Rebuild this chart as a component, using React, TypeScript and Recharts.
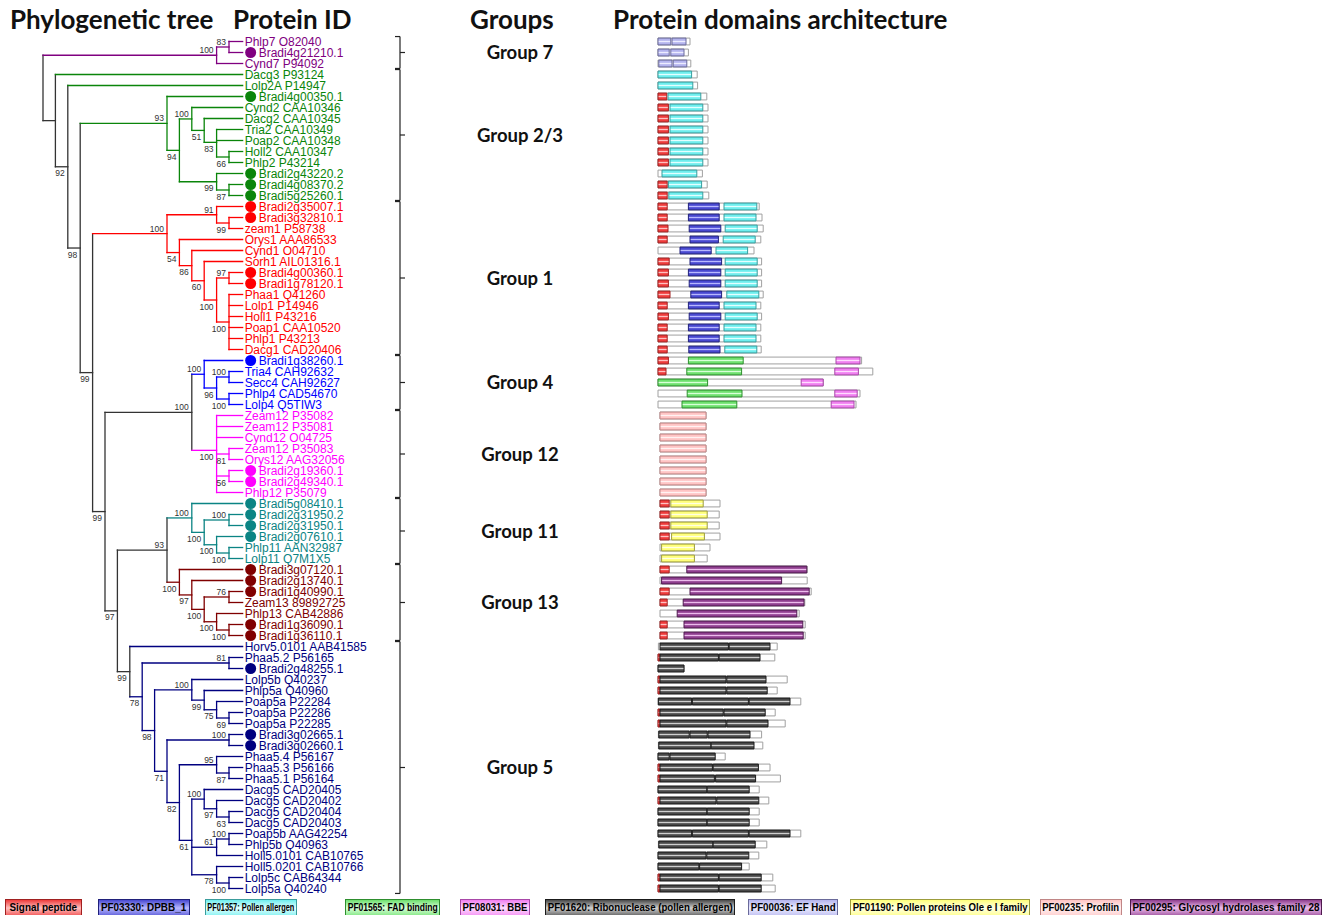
import React from "react";
import {
  ComposedChart,
  XAxis,
  YAxis,
  Scatter,
  ReferenceLine,
  ReferenceArea,
} from "recharts";

const W = 1332;
const H = 915;

// protein IDs top to bottom, row = index + 1
const proteins = [
  "Phlp7 O82040", "Bradi4g21210.1", "Cynd7 P94092",
  "Dacg3 P93124", "Lolp2A P14947", "Bradi4g00350.1", "Cynd2 CAA10346", "Dacg2 CAA10345",
  "Tria2 CAA10349", "Poap2 CAA10348", "Holl2 CAA10347", "Phlp2 P43214", "Bradi2g43220.2",
  "Bradi4g08370.2", "Bradi5g25260.1",
  "Bradi2g35007.1", "Bradi3g32810.1", "zeam1 P58738", "Orys1 AAA86533", "Cynd1 O04710",
  "Sorh1 AIL01316.1", "Bradi4g00360.1", "Bradi1g78120.1", "Phaa1 Q41260", "Lolp1 P14946",
  "Holl1 P43216", "Poap1 CAA10520", "Phlp1 P43213", "Dacg1 CAD20406",
  "Bradi1g38260.1", "Tria4 CAH92632", "Secc4 CAH92627", "Phlp4 CAD54670", "Lolp4 Q5TIW3",
  "Zeam12 P35082", "Zeam12 P35081", "Cynd12 O04725", "Zeam12 P35083", "Orys12 AAG32056",
  "Bradi2g19360.1", "Bradi2g49340.1", "Phlp12 P35079",
  "Bradi5g08410.1", "Bradi2g31950.2", "Bradi2g31950.1", "Bradi2g07610.1", "Phlp11 AAN32987",
  "Lolp11 Q7M1X5",
  "Bradi3g07120.1", "Bradi2g13740.1", "Bradi1g40990.1", "Zeam13 89892725", "Phlp13 CAB42886",
  "Bradi1g36090.1", "Bradi1g36110.1",
  "Horv5.0101 AAB41585", "Phaa5.2 P56165", "Bradi2g48255.1", "Lolp5b Q40237", "Phlp5a Q40960",
  "Poap5a P22284", "Poap5a P22286", "Poap5a P22285", "Bradi3g02665.1", "Bradi3g02660.1",
  "Phaa5.4 P56167", "Phaa5.3 P56166", "Phaa5.1 P56164", "Dacg5 CAD20405", "Dacg5 CAD20402",
  "Dacg5 CAD20404", "Dacg5 CAD20403", "Poap5b AAG42254", "Phlp5b Q40963",
  "Holl5.0101 CAB10765", "Holl5.0201 CAB10766", "Lolp5c CAB64344", "Lolp5a Q40240",
];

const groups = [
  { key: "g7", label: "Group 7", first: 1, last: 3 },
  { key: "g23", label: "Group 2/3", first: 4, last: 15 },
  { key: "g1", label: "Group 1", first: 16, last: 29 },
  { key: "g4", label: "Group 4", first: 30, last: 34 },
  { key: "g12", label: "Group 12", first: 35, last: 42 },
  { key: "g11", label: "Group 11", first: 43, last: 48 },
  { key: "g13", label: "Group 13", first: 49, last: 55 },
  { key: "g5", label: "Group 5", first: 56, last: 78 },
];

// cladogram: lv = node depth level, kids = leaf rows or node ids, bs = bootstrap
const tree: any[] = [
  { id: "root", lv: 0, kids: ["g7", "s1"] },
  { id: "s1", lv: 1, kids: [4, "s2"] },
  { id: "s2", lv: 2, kids: [5, "s3"], bs: 92 },
  { id: "s3", lv: 3, kids: ["g23", "s4"], bs: 98 },
  { id: "s4", lv: 4, kids: ["g1", "s5"], bs: 99 },
  { id: "s5", lv: 5, kids: ["g412", "s6"], bs: 99 },
  { id: "s6", lv: 6, kids: ["g1113", "g5r"], bs: 97 },

  { id: "g7", lv: 14, kids: ["g7a", 3], bs: 100 },
  { id: "g7a", lv: 15, kids: [1, 2], bs: 83 },

  { id: "g23", lv: 10, kids: [6, "g23b"], bs: 93 },
  { id: "g23b", lv: 11, kids: ["g23c", "g23g"], bs: 94 },
  { id: "g23c", lv: 12, kids: [7, "g23d"], bs: 100 },
  { id: "g23d", lv: 13, kids: [8, "g23e"], bs: 51 },
  { id: "g23e", lv: 14, kids: [9, 10, "g23f"], bs: 83 },
  { id: "g23f", lv: 15, kids: [11, 12], bs: 66 },
  { id: "g23g", lv: 14, kids: [13, "g23h"], bs: 99 },
  { id: "g23h", lv: 15, kids: [14, 15], bs: 87 },

  { id: "g1", lv: 10, kids: ["g1a", "g1b"], bs: 100 },
  { id: "g1a", lv: 14, kids: [16, "g1a2"], bs: 91 },
  { id: "g1a2", lv: 15, kids: [17, 18], bs: 99 },
  { id: "g1b", lv: 11, kids: [19, "g1c"], bs: 54 },
  { id: "g1c", lv: 12, kids: [20, "g1d"], bs: 86 },
  { id: "g1d", lv: 13, kids: [21, "g1e"], bs: 60 },
  { id: "g1e", lv: 14, kids: ["g1f", "g1g"], bs: 100 },
  { id: "g1f", lv: 15, kids: [22, 23], bs: 97 },
  { id: "g1g", lv: 15, kids: [24, 25, 26, 27, 28, 29], bs: 100 },

  { id: "g412", lv: 12, kids: ["g4", "g12"], bs: 100 },
  { id: "g4", lv: 13, kids: [30, "g4b"], bs: 100 },
  { id: "g4b", lv: 14, kids: ["g4c", "g4d"], bs: 96 },
  { id: "g4c", lv: 15, kids: [31, 32], bs: 100 },
  { id: "g4d", lv: 15, kids: [33, 34], bs: 100 },
  { id: "g12", lv: 14, kids: [35, 36, 37, "g12a", "g12b", 42], bs: 100 },
  { id: "g12a", lv: 15, kids: [38, 39], bs: 81 },
  { id: "g12b", lv: 15, kids: [40, 41], bs: 56 },

  { id: "g1113", lv: 10, kids: ["g11", "g13"], bs: 93 },
  { id: "g11", lv: 12, kids: [43, "g11b"], bs: 100 },
  { id: "g11b", lv: 13, kids: ["g11c", "g11d"], bs: 100 },
  { id: "g11c", lv: 15, kids: [44, 45], bs: 100 },
  { id: "g11d", lv: 14, kids: [46, "g11e"], bs: 100 },
  { id: "g11e", lv: 15, kids: [47, 48], bs: 100 },
  { id: "g13", lv: 11, kids: [49, "g13b"], bs: 100 },
  { id: "g13b", lv: 12, kids: [50, "g13c"], bs: 97 },
  { id: "g13c", lv: 13, kids: ["g13d", "g13e"], bs: 100 },
  { id: "g13d", lv: 15, kids: [51, 52], bs: 76 },
  { id: "g13e", lv: 14, kids: [53, "g13f"], bs: 100 },
  { id: "g13f", lv: 15, kids: [54, 55], bs: 100 },

  { id: "g5r", lv: 7, kids: [56, "g5a"], bs: 99, spine: true },
  { id: "g5a", lv: 8, kids: ["g5b", "g5c"], bs: 78 },
  { id: "g5b", lv: 15, kids: [57, 58], bs: 81 },
  { id: "g5c", lv: 9, kids: ["g5d", "g5e"], bs: 98 },
  { id: "g5d", lv: 12, kids: [59, "g5d2"], bs: 100 },
  { id: "g5d2", lv: 13, kids: [60, "g5d3"], bs: 99 },
  { id: "g5d3", lv: 14, kids: [61, "g5d4"], bs: 75 },
  { id: "g5d4", lv: 15, kids: [62, 63], bs: 69 },
  { id: "g5e", lv: 10, kids: ["g5f", "g5g"], bs: 71 },
  { id: "g5f", lv: 15, kids: [64, 65], bs: 100 },
  { id: "g5g", lv: 11, kids: ["g5h", "g5i"], bs: 82 },
  { id: "g5h", lv: 14, kids: [66, "g5h2"], bs: 95 },
  { id: "g5h2", lv: 15, kids: [67, 68], bs: 87 },
  { id: "g5i", lv: 12, kids: ["g5j", "g5k", "g5l"], bs: 61 },
  { id: "g5j", lv: 13, kids: [69, "g5j2"], bs: 100 },
  { id: "g5j2", lv: 14, kids: [70, "g5j3"], bs: 97 },
  { id: "g5j3", lv: 15, kids: [71, 72], bs: 63 },
  { id: "g5k", lv: 14, kids: ["g5k2", 75], bs: 61, up: true },
  { id: "g5k2", lv: 15, kids: [73, 74], bs: 100 },
  { id: "g5l", lv: 14, kids: [76, "g5l2"], bs: 78 },
  { id: "g5l2", lv: 15, kids: [77, 78], bs: 100 },
];

// protein length box per row: [start, end] (aa)
const backbone = [
  [0, 80], [0, 76], [0, 82],
  [0, 98], [0, 99], [0, 122], [0, 125], [0, 125], [0, 125], [0, 125], [0, 125], [0, 125],
  [0, 111], [0, 123], [0, 127],
  [0, 253], [0, 260], [0, 263], [0, 257], [0, 240], [0, 259], [0, 259], [0, 259], [0, 263],
  [0, 257], [0, 259], [0, 257], [0, 257], [0, 258],
  [0, 509], [0, 537], [0, 413], [0, 505], [0, 495],
  [5, 120], [5, 120], [5, 120], [5, 120], [5, 120], [5, 120], [5, 120], [5, 120],
  [5, 155], [5, 153], [5, 153], [5, 155], [5, 130], [5, 123],
  [5, 373], [5, 373], [5, 383], [5, 367], [5, 353], [5, 368], [5, 368],
  [1, 298], [0, 292], [0, 65], [0, 323], [0, 298], [0, 357], [0, 293], [0, 318], [1, 259],
  [1, 262], [0, 168], [0, 280], [0, 306], [0, 253], [0, 277], [0, 253], [0, 253], [0, 357],
  [1, 272], [0, 252], [0, 228], [0, 287], [0, 293],
];

// domains: [row, start, end]
const signalPeptide = [
  [6, 0, 22], [7, 0, 26], [8, 0, 26], [9, 0, 26], [10, 0, 26], [11, 0, 26], [12, 0, 26],
  [14, 0, 23], [15, 0, 23],
  [16, 0, 23], [17, 0, 23], [18, 0, 25], [19, 0, 23], [21, 0, 28], [22, 0, 26], [23, 0, 26],
  [24, 0, 30], [25, 0, 23], [26, 0, 26], [27, 0, 23], [28, 0, 23], [29, 0, 23],
  [30, 0, 26], [31, 0, 20],
  [43, 5, 28], [44, 5, 28], [45, 5, 28], [46, 5, 28],
  [49, 5, 28], [51, 5, 28], [52, 5, 23], [54, 5, 23], [55, 5, 23],
  [57, 0, 5], [59, 0, 5], [60, 0, 5], [62, 0, 5], [63, 0, 5], [67, 0, 5], [68, 0, 5],
  [70, 0, 5], [77, 0, 5], [78, 0, 5],
];
const dpbb1 = [
  [16, 76, 153], [17, 76, 153], [18, 78, 157], [19, 80, 151], [20, 55, 133], [21, 80, 159],
  [22, 76, 157], [23, 78, 157], [24, 82, 159], [25, 76, 153], [26, 78, 157], [27, 76, 153],
  [28, 76, 153], [29, 77, 155],
];
const pollenAllergen = [
  [4, 0, 84], [5, 0, 87], [6, 25, 107], [7, 30, 112], [8, 30, 112], [9, 30, 112],
  [10, 30, 112], [11, 30, 112], [12, 30, 112], [13, 10, 97], [14, 26, 109], [15, 27, 112],
  [16, 165, 247], [17, 165, 245], [18, 168, 248], [19, 163, 243], [20, 145, 224],
  [21, 168, 248], [22, 168, 248], [23, 168, 248], [24, 172, 252], [25, 165, 245],
  [26, 168, 248], [27, 165, 245], [28, 165, 245], [29, 167, 247],
];
const fadBinding = [[30, 76, 213], [31, 72, 209], [32, 0, 124], [33, 73, 210], [34, 60, 197]];
const bbe = [[30, 445, 505], [31, 442, 501], [32, 358, 413], [33, 442, 498], [34, 433, 490]];
const ribonuclease = [
  [56, 5, 176], [56, 178, 280], [57, 5, 151], [57, 153, 255], [58, 0, 65],
  [59, 5, 170], [59, 172, 270], [60, 5, 170], [60, 172, 273],
  [61, 1, 84], [61, 86, 226], [61, 228, 330], [62, 5, 163], [62, 165, 268],
  [63, 5, 170], [63, 172, 275], [64, 2, 78], [64, 80, 123], [64, 125, 230],
  [65, 2, 132], [65, 133, 240], [66, 0, 28], [66, 30, 143], [67, 5, 136], [67, 138, 251],
  [68, 5, 141], [68, 144, 244], [69, 0, 122], [69, 123, 228], [70, 5, 145], [70, 147, 252],
  [71, 0, 122], [71, 123, 228], [72, 0, 122], [72, 123, 228],
  [73, 0, 84], [73, 86, 226], [73, 228, 330], [74, 2, 137], [74, 138, 243],
  [75, 0, 120], [75, 122, 227], [76, 0, 102], [76, 104, 209],
  [77, 5, 151], [77, 153, 258], [78, 5, 151], [78, 153, 258],
];
const efHand = [[1, 0, 32], [1, 35, 70], [2, 0, 28], [2, 32, 65], [3, 2, 35], [3, 38, 72]];
const oleE1 = [[43, 32, 113], [44, 32, 123], [45, 32, 123], [46, 34, 116], [47, 9, 91], [48, 9, 91]];
const profilin = [
  [35, 5, 120], [36, 5, 120], [37, 5, 120], [38, 5, 120],
  [39, 5, 120], [40, 5, 120], [41, 5, 120], [42, 5, 120],
];
const gh28 = [
  [49, 72, 372], [50, 9, 309], [51, 80, 378], [52, 63, 365], [53, 48, 347], [54, 65, 362],
  [55, 65, 363],
];

const domainData: Record<string, number[][]> = {
  sig: signalPeptide, dpbb: dpbb1, pa: pollenAllergen, fad: fadBinding, bbe,
  rnase: ribonuclease, ef: efHand, ole: oleE1, prof: profilin, gh28,
};

// styles
const GROUP_COLOR: Record<string, string> = {
  g7: "#800080", g23: "#0a850a", g1: "#ff0000", g4: "#0000ff",
  g12: "#ff00ff", g11: "#0b8484", g13: "#800000", g5: "#000080",
};
const SPINE = "#333";

const DOMAIN_STYLE = [
  { key: "sig", label: "Signal peptide", base: "#ee3b3b", light: "#ffc0c0", stroke: "#a02020", lx: 5, lw: 77 },
  { key: "dpbb", label: "PF03330: DPBB_1", base: "#4848d0", light: "#b8b8ff", stroke: "#20207a", lx: 98, lw: 92 },
  { key: "pa", label: "PF01357: Pollen allergen", base: "#6eeeee", light: "#e4ffff", stroke: "#3a9c9c", lx: 205, lw: 92 },
  { key: "fad", label: "PF01565: FAD binding", base: "#6ee06e", light: "#d8ffd8", stroke: "#2e8e2e", lx: 345, lw: 95 },
  { key: "bbe", label: "PF08031: BBE", base: "#f07ef0", light: "#ffdcff", stroke: "#a848a8", lx: 460, lw: 70 },
  { key: "rnase", label: "PF01620: Ribonuclease (pollen allergen)", base: "#484848", light: "#cfcfcf", stroke: "#1a1a1a", lx: 545, lw: 190 },
  { key: "ef", label: "PF00036: EF Hand", base: "#b4b4ee", light: "#ececff", stroke: "#6a6a9a", lx: 748, lw: 90 },
  { key: "ole", label: "PF01190: Pollen proteins Ole e I family", base: "#ffff7a", light: "#ffffe4", stroke: "#9c9c3c", lx: 850, lw: 180 },
  { key: "prof", label: "PF00235: Profilin", base: "#ffc4c4", light: "#fff2f2", stroke: "#c08686", lx: 1040, lw: 82 },
  { key: "gh28", label: "PF00295: Glycosyl hydrolases family 28", base: "#8e3e8e", light: "#ecbcec", stroke: "#4e1a4e", lx: 1130, lw: 192 },
];

// axis mapping
const TREE_X0 = 43;
const TREE_STEP = 12.4;
const LEAF_LV = 16.1;
const AA_X0 = 658;
const AA_PER_PX = 2.5;
const ROW_Y0 = 41.5;
const ROW_STEP = 11;
const BOX = 0.31;
const treeDomain = [-TREE_X0 / TREE_STEP, (W - TREE_X0) / TREE_STEP];
const aaDomain = [-AA_X0 * AA_PER_PX, (W - AA_X0) * AA_PER_PX];
const rowDomain = [1 - ROW_Y0 / ROW_STEP, 1 + (H - ROW_Y0) / ROW_STEP];
const BR_X = 400;
const GROUP_X = 520;

// tree layout
const byId = new Map(tree.map((n) => [n.id, n]));
const parentOf = new Map<string, any>();
tree.forEach((n) => n.kids.forEach((k: any) => typeof k === "string" && parentOf.set(k, n)));
const groupOfRow = (r: number) => groups.find((g) => r >= g.first && r <= g.last)!.key;
const leavesUnder = (k: any): number[] =>
  typeof k === "number" ? [k] : byId.get(k).kids.flatMap(leavesUnder);
const yOf = (k: any): number => {
  if (typeof k === "number") return k;
  const ys = byId.get(k).kids.map(yOf);
  return ys.reduce((a: number, b: number) => a + b, 0) / ys.length;
};
const lvOf = (k: any) => (typeof k === "number" ? LEAF_LV : byId.get(k).lv);
const colorOf = (k: any) => {
  if (typeof k === "number") return GROUP_COLOR[groupOfRow(k)];
  if (byId.get(k).spine) return SPINE;
  const gs = Array.from(new Set(leavesUnder(k).map(groupOfRow)));
  return gs.length === 1 ? GROUP_COLOR[gs[0]] : SPINE;
};

const branchSegs = tree.flatMap((n) => {
  const ys = n.kids.map(yOf);
  const segs = [
    { x1: n.lv, y1: Math.min(...ys), x2: n.lv, y2: Math.max(...ys), c: colorOf(n.id) },
  ];
  n.kids.forEach((k: any, i: number) =>
    segs.push({ x1: n.lv, y1: ys[i], x2: lvOf(k), y2: ys[i], c: colorOf(k) })
  );
  return segs;
});

const leafPts = proteins.map((name, i) => ({
  x: LEAF_LV, y: i + 1, name, color: GROUP_COLOR[groupOfRow(i + 1)],
}));

const bsPts = tree
  .filter((n) => n.bs)
  .map((n) => ({
    x: n.lv,
    y: yOf(n.id),
    bs: n.bs,
    up: n.up ?? (parentOf.get(n.id)?.kids[0] === n.id),
  }));

const groupPts = groups.map((g) => ({ x: GROUP_X, y: (g.first + g.last) / 2, label: g.label }));

const bracketSegs = groups.flatMap((g) => {
  const top = g.first - 0.45;
  const bot = g.last + 0.45;
  const mid = (g.first + g.last) / 2;
  return [
    { x1: BR_X - 5, y1: top, x2: BR_X, y2: top },
    { x1: BR_X, y1: top, x2: BR_X, y2: bot },
    { x1: BR_X - 5, y1: bot, x2: BR_X, y2: bot },
    { x1: BR_X, y1: mid, x2: BR_X + 5, y2: mid },
  ];
});

const LEGEND_FONT = "bold 11.5px 'Liberation Sans', Arial, sans-serif";
let measureCtx: CanvasRenderingContext2D | null = null;
const legendScale = (text: string, boxW: number) => {
  if (typeof document === "undefined") return 0.8;
  if (!measureCtx) measureCtx = document.createElement("canvas").getContext("2d");
  if (!measureCtx) return 0.8;
  measureCtx.font = LEGEND_FONT;
  const w = measureCtx.measureText(text).width;
  return Math.min(0.86, (boxW - 5) / w);
};

const LeafLabel = (p: any) => {
  const { cx, cy, payload } = p;
  const dot = payload.name.startsWith("Bradi");
  return (
    <g>
      {dot && <circle cx={cx + 8} cy={cy} r={5.5} fill={payload.color} />}
      <text
        x={cx + (dot ? 16 : 2)}
        y={cy + 4.3}
        fontSize={12}
        fill={payload.color}
        fontFamily="'Liberation Sans', Arial, sans-serif"
      >
        {payload.name}
      </text>
    </g>
  );
};

const BsLabel = (p: any) => {
  const { cx, cy, payload } = p;
  return (
    <text
      x={cx - 3}
      y={payload.up ? cy - 2 : cy + 9.5}
      textAnchor="end"
      fontSize={8.5}
      fill="#333"
      fontFamily="'Liberation Sans', Arial, sans-serif"
    >
      {payload.bs}
    </text>
  );
};

const GroupLabel = (p: any) => {
  const { cx, cy, payload } = p;
  return (
    <text
      x={cx}
      y={cy + 6.5}
      textAnchor="middle"
      fontSize={18.5}
      fontWeight="bold"
      fill="#111"
      fontFamily="Lato, 'Open Sans', sans-serif"
    >
      {payload.label}
    </text>
  );
};

const headerStyle: React.CSSProperties = {
  position: "absolute",
  top: 3,
  fontFamily: "Lato, 'Open Sans', sans-serif",
  fontWeight: 700,
  fontSize: 26,
  color: "#111",
  whiteSpace: "nowrap",
  lineHeight: "32px",
};

export default function App() {
  return (
    <div
      style={{
        position: "absolute",
        left: 0,
        top: 0,
        width: W,
        height: H,
        background: "#fff",
        overflow: "hidden",
      }}
    >
      <svg width={0} height={0} style={{ position: "absolute" }}>
        <defs>
          {DOMAIN_STYLE.map((d) => (
            <linearGradient key={d.key} id={`dg-${d.key}`} x1="0" y1="0" x2="0" y2="1">
              <stop offset="0%" stopColor={d.base} />
              <stop offset="32%" stopColor={d.base} />
              <stop offset="50%" stopColor={d.light} />
              <stop offset="68%" stopColor={d.base} />
              <stop offset="100%" stopColor={d.base} />
            </linearGradient>
          ))}
        </defs>
      </svg>

      <div style={{ ...headerStyle, left: 10 }}>Phylogenetic tree</div>
      <div style={{ ...headerStyle, left: 233 }}>Protein ID</div>
      <div style={{ ...headerStyle, left: 470 }}>Groups</div>
      <div style={{ ...headerStyle, left: 613 }}>Protein domains architecture</div>

      <ComposedChart
        width={W}
        height={H}
        margin={{ top: 0, right: 0, bottom: 0, left: 0 }}
        style={{ position: "absolute", left: 0, top: 0 }}
      >
        <XAxis xAxisId="tree" type="number" dataKey="x" domain={treeDomain} hide allowDataOverflow />
        <XAxis xAxisId="aa" type="number" dataKey="x" domain={aaDomain} hide allowDataOverflow />
        <XAxis xAxisId="px" type="number" dataKey="x" domain={[0, W]} hide allowDataOverflow />
        <YAxis yAxisId="row" type="number" dataKey="y" domain={rowDomain} reversed hide allowDataOverflow />

        {backbone.map(([s, e], i) => (
          <ReferenceArea
            key={`bb${i}`}
            xAxisId="aa"
            yAxisId="row"
            x1={s}
            x2={e}
            y1={i + 1 - BOX}
            y2={i + 1 + BOX}
            fill="#fff"
            fillOpacity={1}
            stroke="#a0a0a0"
            strokeWidth={1}
            ifOverflow="visible"
          />
        ))}

        {DOMAIN_STYLE.flatMap((d) =>
          domainData[d.key].map(([r, s, e], i) => (
            <ReferenceArea
              key={`${d.key}${i}`}
              xAxisId="aa"
              yAxisId="row"
              x1={s}
              x2={e}
              y1={r - BOX}
              y2={r + BOX}
              fill={`url(#dg-${d.key})`}
              fillOpacity={1}
              stroke={d.stroke}
              strokeWidth={1}
              ifOverflow="visible"
            />
          ))
        )}

        {branchSegs.map((s, i) => (
          <ReferenceLine
            key={`br${i}`}
            xAxisId="tree"
            yAxisId="row"
            segment={[{ x: s.x1, y: s.y1 }, { x: s.x2, y: s.y2 }]}
            stroke={s.c}
            strokeWidth={1.3}
            strokeLinecap="square"
            ifOverflow="visible"
          />
        ))}

        {bracketSegs.map((s, i) => (
          <ReferenceLine
            key={`bk${i}`}
            xAxisId="px"
            yAxisId="row"
            segment={[{ x: s.x1, y: s.y1 }, { x: s.x2, y: s.y2 }]}
            stroke="#222"
            strokeWidth={1.2}
            ifOverflow="visible"
          />
        ))}

        <Scatter xAxisId="tree" yAxisId="row" data={leafPts} shape={LeafLabel} isAnimationActive={false} />
        <Scatter xAxisId="tree" yAxisId="row" data={bsPts} shape={BsLabel} isAnimationActive={false} />
        <Scatter xAxisId="px" yAxisId="row" data={groupPts} shape={GroupLabel} isAnimationActive={false} />
      </ComposedChart>

      {DOMAIN_STYLE.map((d) => (
        <div
          key={d.key}
          style={{
            position: "absolute",
            left: d.lx,
            top: 899,
            width: d.lw,
            height: 20,
            boxSizing: "border-box",
            border: `1px solid ${d.stroke}`,
            background: `linear-gradient(to bottom, ${d.base} 0%, ${d.light} 45%, ${d.base} 100%)`,
            display: "flex",
            justifyContent: "center",
            alignItems: "flex-start",
            overflow: "hidden",
          }}
        >
          <span
            style={{
              display: "inline-block",
              flex: "none",
              font: LEGEND_FONT,
              color: "#000",
              lineHeight: "15px",
              whiteSpace: "nowrap",
              transform: `scaleX(${legendScale(d.label, d.lw)})`,
              transformOrigin: "center",
            }}
          >
            {d.label}
          </span>
        </div>
      ))}
    </div>
  );
}
